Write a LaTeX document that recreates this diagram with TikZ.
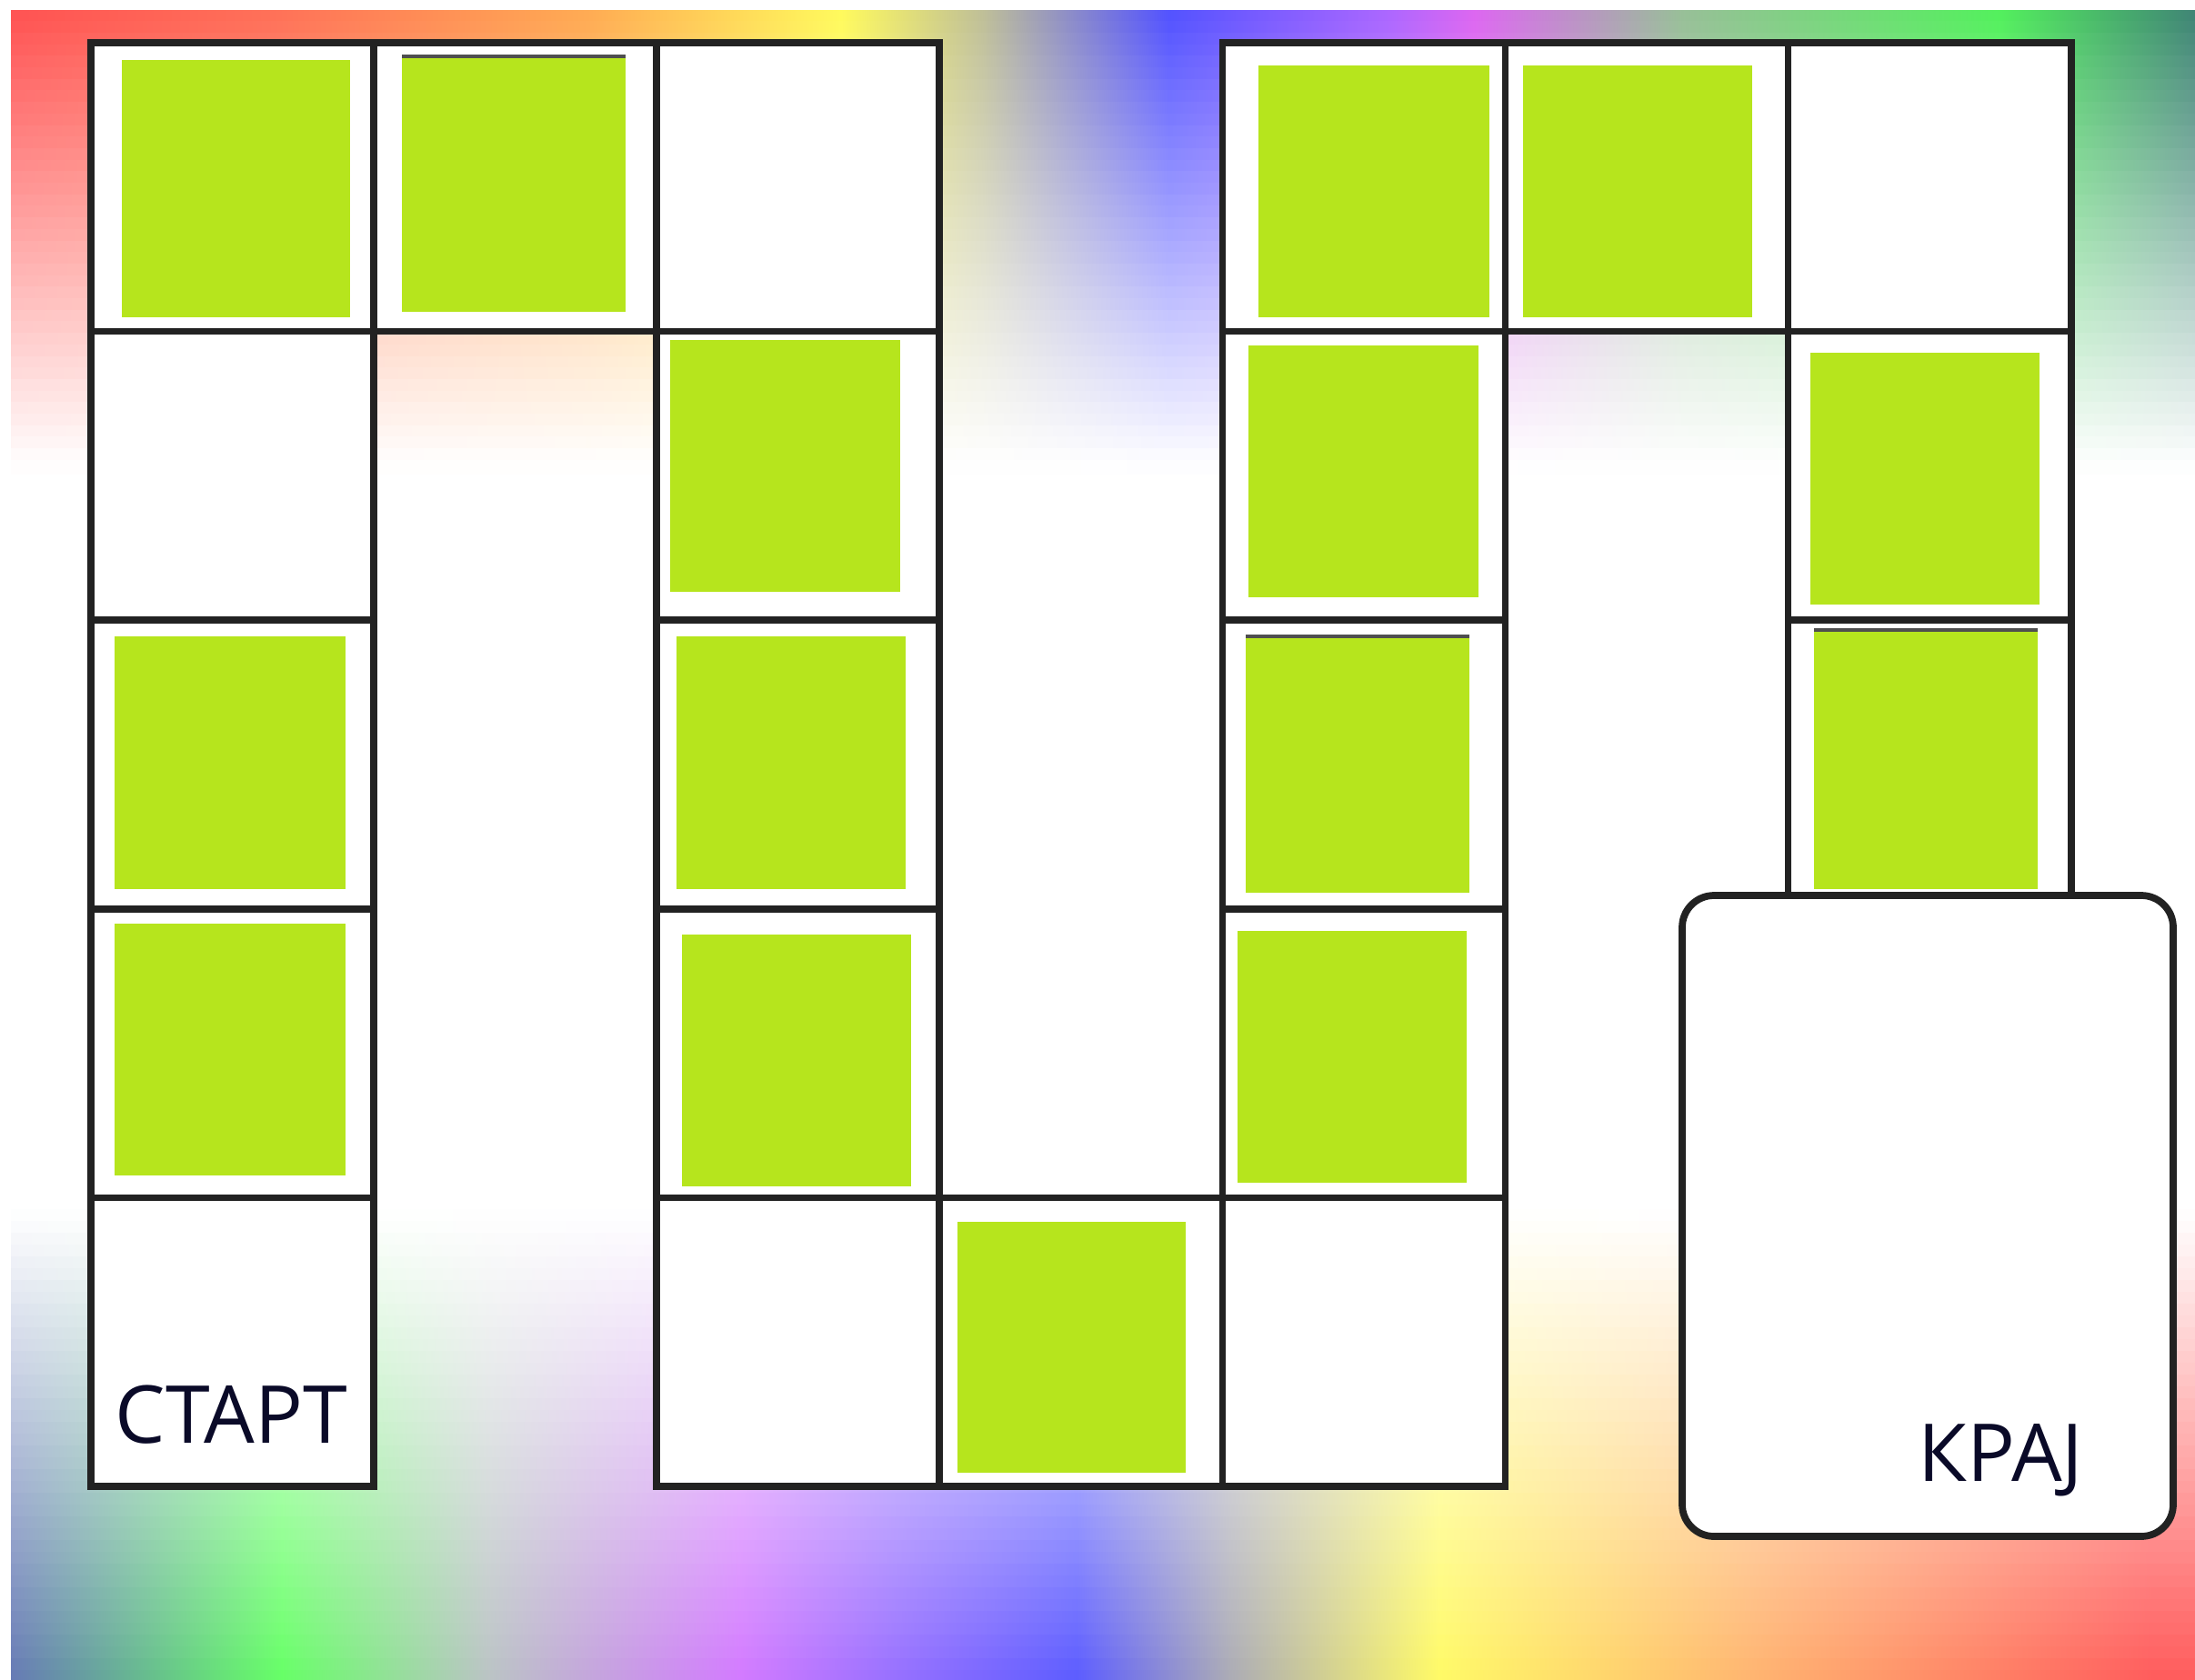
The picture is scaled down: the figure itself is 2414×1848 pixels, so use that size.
\documentclass[tikz,border=0pt]{standalone}
\usepackage{fontspec}
\usepackage{xcolor}
\usepackage{tikz}
\newfontfamily\natpisfont{Open Sans}
\definecolor{ZelenoPolje}{RGB}{182,229,29}
\definecolor{LinijaPolja}{RGB}{34,34,34}
\definecolor{TamnoPlavo}{RGB}{10,10,40}
% boje duge na vrhu
\definecolor{g0}{RGB}{255,80,80}
\definecolor{g1}{RGB}{255,110,85}
\definecolor{g2}{RGB}{255,170,80}
\definecolor{g3}{RGB}{255,250,90}
\definecolor{g4}{RGB}{190,190,150}
\definecolor{g5}{RGB}{80,80,255}
\definecolor{g6}{RGB}{170,100,255}
\definecolor{g7}{RGB}{220,100,240}
\definecolor{g8}{RGB}{150,190,150}
\definecolor{g9}{RGB}{80,240,90}
\definecolor{g10}{RGB}{60,130,115}
% boje duge na dnu
\definecolor{d0}{RGB}{100,120,180}
\definecolor{d1}{RGB}{100,255,100}
\definecolor{d2}{RGB}{185,195,195}
\definecolor{d3}{RGB}{210,120,255}
\definecolor{d4}{RGB}{150,110,255}
\definecolor{d5}{RGB}{90,90,255}
\definecolor{d6}{RGB}{170,170,180}
\definecolor{d7}{RGB}{255,250,100}
\definecolor{d8}{RGB}{255,180,110}
\definecolor{d9}{RGB}{255,90,90}

\begin{document}
\begin{tikzpicture}[x=0.01cm,y=-0.01cm,
    polje/.style={draw=LinijaPolja,fill=white,line width=2.2pt},
    zeleno/.style={fill=ZelenoPolje},
    natpis/.style={font=\natpisfont\fontsize{25}{30}\selectfont,text=TamnoPlavo,inner sep=0pt}]
  \useasboundingbox (0,0) rectangle (2414,1848);
  \fill[white] (0,0) rectangle (2414,1848);
  % pozadina: pruge duge koje blede prema sredini
  \foreach \k in {0,...,39}{
    \pgfmathtruncatemacro\p{100*(1-(\k+0.5)/40)}
    \edef\traka{\noexpand\pgfdeclarehorizontalshading{gore\k}{100bp}{%
      color(0bp)=(g0!\p!white); color(25bp)=(g0!\p!white);
      color(31bp)=(g1!\p!white); color(38.25bp)=(g2!\p!white);
      color(44bp)=(g3!\p!white); color(47.25bp)=(g4!\p!white);
      color(51.5bp)=(g5!\p!white); color(56.5bp)=(g6!\p!white);
      color(58.5bp)=(g7!\p!white); color(63.25bp)=(g8!\p!white);
      color(70.5bp)=(g9!\p!white); color(75bp)=(g10!\p!white);
      color(100bp)=(g10!\p!white)}}
    \traka
    \fill[shading=gore\k] (12,{11+12.7*\k}) rectangle (2414,{11+12.7*(\k+1)+2});
  }
  \foreach \k in {0,...,39}{
    \pgfmathtruncatemacro\p{100*((\k+0.5)/40)}
    \edef\traka{\noexpand\pgfdeclarehorizontalshading{dole\k}{100bp}{%
      color(0bp)=(d0!\p!white); color(25bp)=(d0!\p!white);
      color(31.2bp)=(d1!\p!white); color(35.9bp)=(d2!\p!white);
      color(41.7bp)=(d3!\p!white); color(45.2bp)=(d4!\p!white);
      color(49.4bp)=(d5!\p!white); color(52.9bp)=(d6!\p!white);
      color(57.7bp)=(d7!\p!white); color(64.8bp)=(d8!\p!white);
      color(74bp)=(d9!\p!white); color(100bp)=(d9!\p!white)}}
    \traka
    \fill[shading=dole\k] (12,{1330+13*\k}) rectangle (2414,{1330+13*(\k+1)+2});
  }
  % polja staze
  \foreach \i/\j in {0/0,0/1,0/2,0/3,0/4,1/0,2/0,2/1,2/2,2/3,2/4,3/4,
                     4/0,4/1,4/2,4/3,4/4,5/0,6/0,6/1,6/2}
    \draw[polje] ({100+311.1*\i},{47+317.6*\j}) rectangle ++(311.1,317.6);
  % zelena polja
  \foreach \xa/\ya/\xb/\yb in {134/66/385/349, 442/62/688/343, 737/374/990/651,
      744/700/996/978, 750/1028/1002/1305, 1053/1344/1304/1620,
      126/700/380/978, 126/1016/380/1293, 1384/72/1638/349,
      1675/72/1927/349, 1373/380/1626/657, 1370/700/1616/982,
      1361/1024/1613/1301, 1991/388/2243/665, 1995/693/2241/978}
    \fill[zeleno] (\xa,\ya) rectangle (\xb,\yb);
  \foreach \xa/\xb/\ya in {442/688/62, 1370/1616/700, 1995/2241/693}
    \draw[LinijaPolja!80,line width=1pt] (\xa,\ya) -- (\xb,\ya);
  % cilj
  \draw[polje,rounded corners=0.35cm] (1850,985) rectangle (2390,1690);
  \node[natpis,anchor=base west] (start) at (126,1587) {СТАРТ};
  \node[natpis,anchor=base east] (kraj) at (2292,1629) {КРАЈ};
\end{tikzpicture}
\end{document}
